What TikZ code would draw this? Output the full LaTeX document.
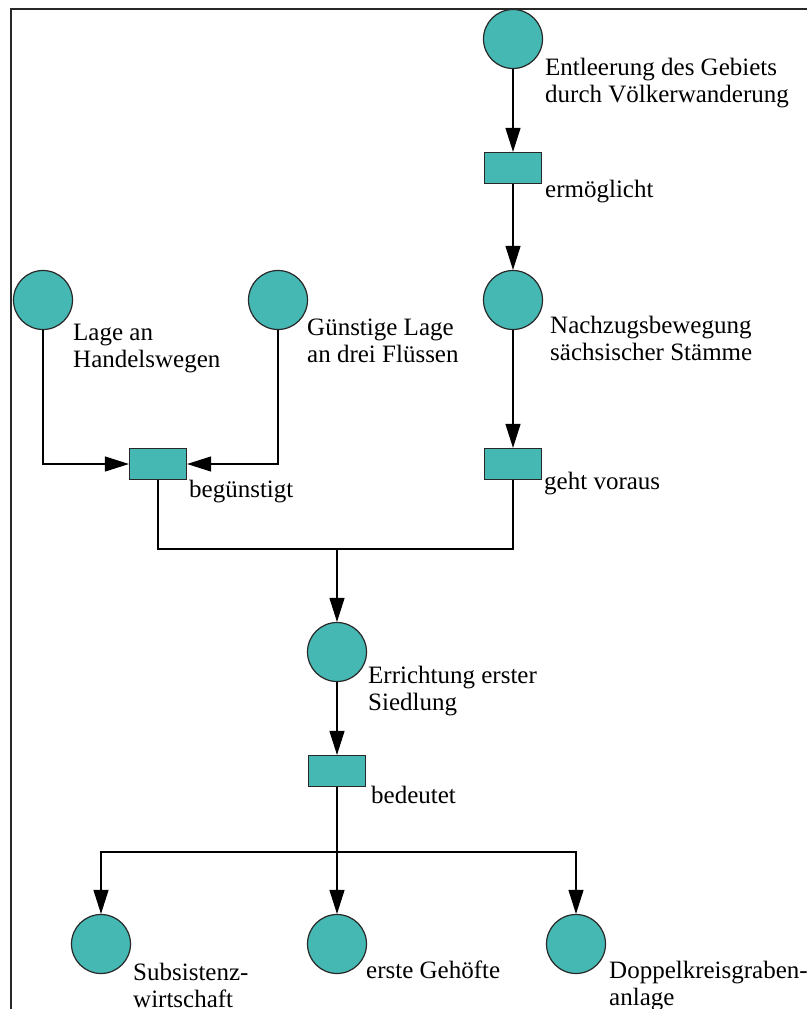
\documentclass[tikz,border=0pt]{standalone}
\usepackage{fontspec}
\setmainfont{Liberation Serif}
\usetikzlibrary{arrows.meta}
\definecolor{teal1}{RGB}{69,184,180}
\definecolor{edge1}{RGB}{40,40,40}
\begin{document}
\begin{tikzpicture}[x=1pt,y=-1pt,
  place/.style={circle,draw=edge1,line width=1.2pt,fill=teal1,minimum size=59pt,inner sep=0pt},
  trans/.style={rectangle,draw=edge1,line width=1.2pt,fill=teal1,minimum width=57pt,minimum height=31pt,inner sep=0pt},
  lbl/.style={anchor=north west,inner sep=0pt,align=left,font=\fontsize{25}{27}\selectfont},
  conn/.style={line width=1.2pt,black},
  arr/.style={conn,-{Triangle[length=24pt,width=15pt]}}]
\useasboundingbox (0,0) rectangle (806,1009);
% frame
\draw[line width=2.2pt,edge1] (11,1012) -- (11,9) -- (810,9);
% places
\node[place] (c1) at (513,39) {};
\node[place] (c2) at (513,300) {};
\node[place] (l1) at (43,300) {};
\node[place] (l2) at (278,300) {};
\node[place] (c3) at (337,652) {};
\node[place] (b1) at (101,944) {};
\node[place] (b2) at (337,944) {};
\node[place] (b3) at (576,944) {};
% transitions
\node[trans] (r1) at (513,168) {};
\node[trans] (r2) at (513,464) {};
\node[trans] (rl) at (158,464) {};
\node[trans] (r3) at (337,771) {};
% junctions
\coordinate (j) at (337,549);
\coordinate (k) at (337,852);
% connectors
\draw[arr] (c1) -- (r1);
\draw[arr] (r1) -- (c2);
\draw[arr] (c2) -- (r2);
\draw[arr] (l1.south) |- (rl.west);
\draw[arr] (l2.south) |- (rl.east);
\draw[conn] (rl.south) |- (j);
\draw[conn] (r2.south) |- (j);
\draw[arr] (j) -- (c3);
\draw[arr] (c3) -- (r3);
\draw[arr] (r3) -- (b2);
\draw[arr] (k) -| (b1.north);
\draw[arr] (k) -| (b3.north);
% labels
\node[lbl] (t1) at (545,58) {Entleerung des Gebiets\\durch Völkerwanderung};
\node[lbl] (t2) at (545,180) {ermöglicht};
\node[lbl] (t3) at (550,316) {Nachzugsbewegung\\sächsischer Stämme};
\node[lbl] (t4) at (73,324) {Lage an\\Handelswegen};
\node[lbl] (t5) at (307,319) {Günstige Lage\\an drei Flüssen};
\node[lbl] (t6) at (189,480) {begünstigt};
\node[lbl] (t7) at (544,472) {geht voraus};
\node[lbl] (t8) at (368,666) {Errichtung erster\\Siedlung};
\node[lbl] (t9) at (371,786) {bedeutet};
\node[lbl] (t10) at (133,963) {Subsistenz-\\wirtschaft};
\node[lbl] (t11) at (366,961) {erste Gehöfte};
\node[lbl] (t12) at (609,961) {Doppelkreisgraben-\\anlage};
\end{tikzpicture}
\end{document}
